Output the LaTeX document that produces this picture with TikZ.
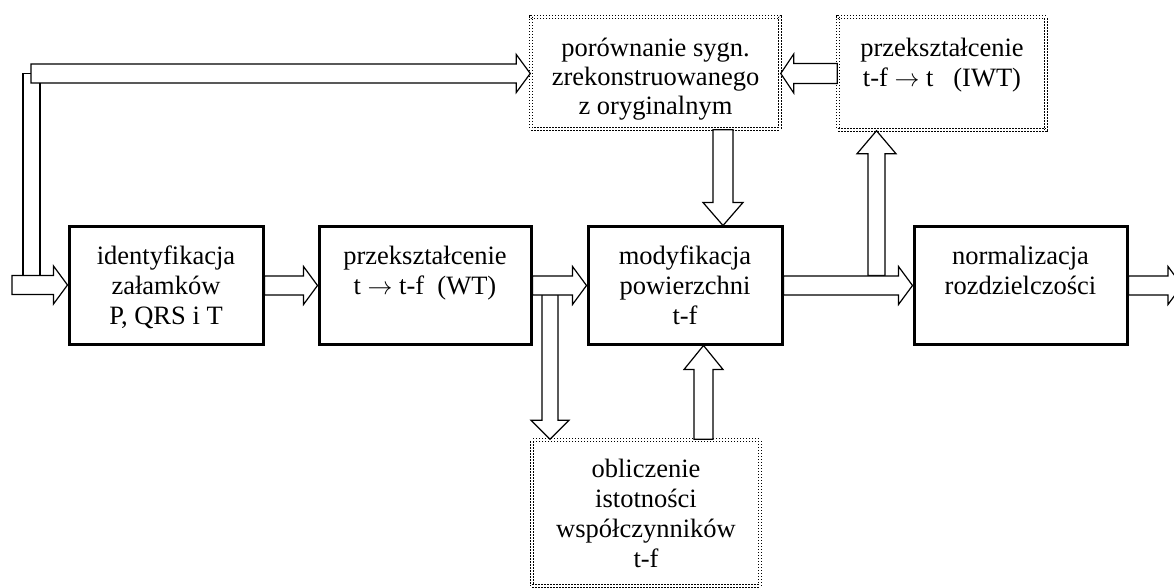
\documentclass[tikz,border=0pt]{standalone}
\usepackage{fontspec}
\setmainfont{Liberation Serif}
\usetikzlibrary{calc}
\begin{document}
\begin{tikzpicture}[x=1pt,y=1pt,
  box/.style={draw, line width=3pt, minimum height=117pt, inner sep=0pt},
  dbox/.style={draw, line width=1.5pt, double, double distance=1.4pt, dash pattern=on 1.5pt off 1.5pt, inner sep=0pt},
  txt/.style={align=center, inner sep=0pt, anchor=north, font=\fontsize{26.5}{30}\selectfont},
  blk/.style={draw, fill=white, line width=1.2pt, line join=miter},
  rblk/.style n args={3}{blk, to path={let \p1=(\tikztostart),\p2=(\tikztotarget) in
    (\x1,\y1-#1) -- (\x2-#3,\y1-#1) -- (\x2-#3,\y1-#2) -- (\x2,\y1) -- (\x2-#3,\y1+#2) -- (\x2-#3,\y1+#1) -- (\x1,\y1+#1) -- cycle}},
  lblk/.style n args={3}{blk, to path={let \p1=(\tikztostart),\p2=(\tikztotarget) in
    (\x1,\y1-#1) -- (\x2+#3,\y1-#1) -- (\x2+#3,\y1-#2) -- (\x2,\y1) -- (\x2+#3,\y1+#2) -- (\x2+#3,\y1+#1) -- (\x1,\y1+#1) -- cycle}},
  ublk/.style n args={3}{blk, to path={let \p1=(\tikztostart),\p2=(\tikztotarget) in
    (\x1-#1,\y1) -- (\x1-#1,\y2-#3) -- (\x1-#2,\y2-#3) -- (\x1,\y2) -- (\x1+#2,\y2-#3) -- (\x1+#1,\y2-#3) -- (\x1+#1,\y1) -- cycle}},
  dblk/.style n args={3}{blk, to path={let \p1=(\tikztostart),\p2=(\tikztotarget) in
    (\x1-#1,\y1) -- (\x1-#1,\y2+#3) -- (\x1-#2,\y2+#3) -- (\x1,\y2) -- (\x1+#2,\y2+#3) -- (\x1+#1,\y2+#3) -- (\x1+#1,\y1) -- cycle}},
  ln/.style={draw, line width=1.2pt}
]
\useasboundingbox (0,0) rectangle (1174,587);

% boxes
\node[box, minimum width=194pt] (b1) at (166,301.5) {};
\node[box, minimum width=212pt] (b2) at (425,301.5) {};
\node[box, minimum width=194pt] (b3) at (685,301.5) {};
\node[box, minimum width=213pt] (b4) at (1020.5,301.5) {};
\node[dbox, minimum width=249pt, minimum height=112pt] (por) at (655.5,514) {};
\node[dbox, minimum width=208pt, minimum height=113pt] (iwt) at (942,513.5) {};
\node[dbox, minimum width=228pt, minimum height=146pt] (obl) at (646,74) {};

% texts
\node[txt] (t1) at (166,341) {identyfikacja\\załamków\\P, QRS i T};
\node[txt] (t2) at (425,341) {przekształcenie\\t $\rightarrow$ t-f\ \ (WT)};
\node[txt] (t3) at (685,341) {modyfikacja\\powierzchni\\t-f};
\node[txt] (t4) at (1020.5,341) {normalizacja\\rozdzielczości};
\node[txt, font=\fontsize{26.5}{29}\selectfont] (tp) at (655.5,549) {porównanie sygn.\\zrekonstruowanego\\z oryginalnym};
\node[txt] (ti) at (942,549) {przekształcenie\\t-f $\rightarrow$ t\ \ \ (IWT)};
\node[txt] (to) at (646,128) {obliczenie\\istotności\\współczynników\\t-f};

% helper coordinates
\coordinate (in) at (12,302);
\coordinate (out) at (1182,302);
\coordinate (fb0) at (31,513.5);
\coordinate (tapD) at (550,292.5);
\coordinate (tapU) at (876.5,311.5);

% vertical arrows
\draw[dblk={10pt}{20pt}{23pt}] ([xshift=67.5pt]por.south) to (b3.north);
\draw[ublk={9.5pt}{19.5pt}{24pt}] ([xshift=57.5pt]obl.north) to (b3.south);
\draw[dblk={8pt}{19pt}{19pt}] (tapD) to (obl.north);
\draw[ublk={8.5pt}{19.5pt}{23pt}] (tapU) to (iwt.south);

% feedback from input
\draw[ln] ($(in)+(11,9.5)$) |- (fb0);
\draw[ln] ($(in)+(28,9.5)$) -- ($(fb0)+(9,-9.5)$);
\draw[rblk={9.5pt}{19pt}{14pt}] (fb0) to (por.west);
\draw[lblk={10pt}{19.5pt}{13pt}] (iwt.west) to (por.east);

% main horizontal arrows
\draw[rblk={9.5pt}{19pt}{14pt}] (in) to (b1.west);
\draw[rblk={9.5pt}{19pt}{14pt}] (b1.east) to (b2.west);
\draw[rblk={9.5pt}{19pt}{14pt}] (b2.east) to (b3.west);
\draw[rblk={9.5pt}{19pt}{14pt}] (b3.east) to (b4.west);
\draw[rblk={9.5pt}{19pt}{14pt}] (b4.east) to (out);
\end{tikzpicture}
\end{document}
